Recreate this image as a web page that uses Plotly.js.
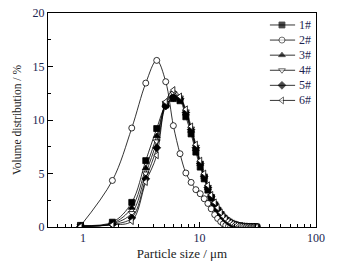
<!DOCTYPE html>
<html>
<head>
<meta charset="utf-8">
<script src="https://cdn.plot.ly/plotly-3.0.1.min.js"></script>
<style>html,body{margin:0;padding:0;background:#fff;}#chart{width:351px;height:263px;}</style>
</head>
<body>
<div id="chart"></div>
<script>
// Particle size grid (μm)
const sizes = [0.95,1.785,2.62,3.455,4.29,5.125,5.96,6.795,7.63,8.465,9.3,10.135,10.97,11.8,12.6,13.5,14.3,15.2,16.0,16.8,17.7,18.5,19.3,20.2,21.0,21.9,22.7,23.5,24.4,25.2,26.0,26.9,27.7,28.5,29.4,30.2,31.0];
const sizes2 = [0.95,1.785,2.62,3.455,4.29,5.125,5.96,6.795,7.63,8.465,9.3,10.135,10.97,11.8,12.6,13.5,14.3,15.2,16.0,16.8,17.7,18.5,19.3];

const s1 = [0.15,0.45,2.3,6.2,9.2,11.4,12.0,11.8,10.3,8.7,7.0,5.6,4.5,3.45,2.7,2.0,1.55,1.15,0.85,0.65,0.48,0.35,0.26,0.19,0.13,0.09,0.06,0.04,0.03,0.02,0.01,0,0,0,0,0,0];
const s2 = [0.1,4.35,9.25,13.45,15.57,13.58,9.47,6.85,5.05,4.17,3.49,3.11,2.64,2.2,1.7,1.15,0.8,0.5,0.3,0.15,0.05,0.01,0];
const s3 = [0.1,0.35,1.8,5.5,8.5,11.5,12.3,12.0,10.6,9.0,7.3,5.9,4.7,3.65,2.85,2.15,1.65,1.25,0.92,0.7,0.52,0.38,0.28,0.2,0.14,0.1,0.07,0.05,0.03,0.02,0.01,0,0,0,0,0,0];
const s4 = [0.08,0.3,1.3,5.0,8.0,11.6,12.5,12.1,10.8,9.2,7.5,6.0,4.8,3.75,2.9,2.2,1.7,1.3,0.95,0.72,0.54,0.4,0.29,0.21,0.15,0.1,0.07,0.05,0.03,0.02,0.01,0,0,0,0,0,0];
const s5 = [0.05,0.25,0.85,4.5,7.4,11.3,12.1,12.0,10.7,9.1,7.4,5.95,4.75,3.7,2.88,2.18,1.68,1.28,0.94,0.71,0.53,0.39,0.28,0.2,0.14,0.1,0.07,0.05,0.03,0.02,0.01,0,0,0,0,0,0];
const s6 = [0.05,0.2,0.55,4.2,6.7,11.7,12.8,12.2,11.0,9.4,7.7,6.2,5.0,3.9,3.0,2.3,1.8,1.35,1.0,0.75,0.56,0.42,0.3,0.22,0.16,0.11,0.08,0.05,0.03,0.02,0.01,0,0,0,0,0,0];

const names = ['1#','2#','3#','4#','5#','6#'];
const xTicks = [1,10,100];
const xTickText = ['1','10','100'];
const yTicks = [0,5,10,15,20];

const series = [
  {x: sizes, y: s1, sym: 'square', fill: '#000'},
  {x: sizes2, y: s2, sym: 'circle', fill: '#fff'},
  {x: sizes, y: s3, sym: 'triangle-up', fill: '#000'},
  {x: sizes, y: s4, sym: 'triangle-down', fill: '#fff'},
  {x: sizes, y: s5, sym: 'diamond', fill: '#000'},
  {x: sizes, y: s6, sym: 'triangle-left', fill: '#fff'}
];

const traces = series.map((s, i) => ({
  type: 'scatter', mode: 'lines+markers', name: names[i], showlegend: false,
  x: s.x, y: s.y,
  line: {color: '#000', width: 0.8, shape: 'spline', smoothing: 1},
  marker: {symbol: s.sym, size: 6, color: s.fill, line: {color: '#000', width: 0.8}}
}));

// Hand-built legend on an overlay paper-like axis (0..1), compact row spacing
const legX = [0.828, 0.873, 0.922];
const legTop = 0.944, legStep = 0.0705;
const annotations = [];
series.forEach((s, i) => {
  const yy = legTop - i * legStep;
  traces.push({
    type: 'scatter', mode: 'lines+markers', xaxis: 'x2', yaxis: 'y2', showlegend: false,
    x: legX, y: [yy, yy, yy],
    line: {color: '#000', width: 0.8},
    marker: {symbol: s.sym, size: [0, 6, 0], color: s.fill, line: {color: '#000', width: [0, 0.8, 0]}},
    hoverinfo: 'skip'
  });
  annotations.push({
    xref: 'x2', yref: 'y2', x: 0.93, y: yy, xanchor: 'left', yanchor: 'middle',
    text: names[i], showarrow: false,
    font: {family: 'Liberation Serif, Times New Roman, serif', size: 12, color: '#1c2550'}
  });
});

const tickFont = {family: 'Liberation Serif, Times New Roman, serif', size: 12, color: '#1c2550'};
const serif = 'Liberation Serif, Times New Roman, serif';

const layout = {
  width: 351, height: 263,
  margin: {l: 48, r: 35, t: 13, b: 36},
  paper_bgcolor: '#fff', plot_bgcolor: '#fff',
  showlegend: false,
  annotations: annotations,
  xaxis: {
    type: 'log', range: [Math.log10(0.5), 2],
    tickvals: xTicks, ticktext: xTickText,
    ticks: 'inside', ticklen: 5, tickwidth: 1, tickcolor: '#000',
    minor: {ticks: 'inside', ticklen: 3, tickwidth: 1, tickcolor: '#000', dtick: 'D1', showgrid: false},
    showline: true, linecolor: '#000', linewidth: 1, mirror: true,
    showgrid: false, zeroline: false,
    tickfont: tickFont,
    title: {text: 'Particle size / μm', font: {family: serif, size: 13, color: '#222'}, standoff: 4}
  },
  yaxis: {
    range: [0, 20], tickvals: yTicks,
    ticks: 'inside', ticklen: 5, tickwidth: 1, tickcolor: '#000',
    minor: {ticks: 'inside', ticklen: 3, tickwidth: 1, tickcolor: '#000', dtick: 2.5, showgrid: false},
    showline: true, linecolor: '#000', linewidth: 1, mirror: true,
    showgrid: false, zeroline: false,
    tickfont: tickFont,
    title: {text: 'Volume distribution / %', font: {family: serif, size: 11.5, color: '#222'}, standoff: 8}
  },
  xaxis2: {overlaying: 'x', range: [0, 1], visible: false, fixedrange: true},
  yaxis2: {overlaying: 'y', range: [0, 1], visible: false, fixedrange: true}
};

Plotly.newPlot('chart', traces, layout, {staticPlot: true, displayModeBar: false});
</script>
</body>
</html>
